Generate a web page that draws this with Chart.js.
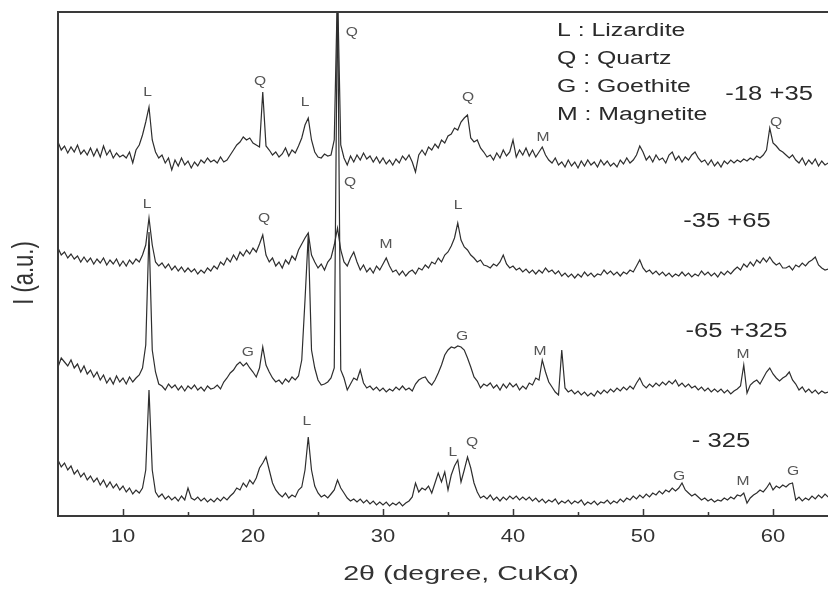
<!DOCTYPE html>
<html>
<head>
<meta charset="utf-8">
<script src="https://cdn.jsdelivr.net/npm/chart.js@4/dist/chart.umd.min.js"></script>
<style>
  html, body { margin: 0; padding: 0; background: #fff; }
  canvas { display: block; }
</style>
</head>
<body>
<canvas id="xrd-chart" width="828" height="590"></canvas>
<script>
'use strict';

// Scan settings (2-theta grid of the diffractometer)

const scanStart = 5;
const scanStep = 0.25;

// Intensities, one row per degree (x, x.25, x.5, x.75)

const sizeMinus18Plus35 = [
  374, 366, 370, 363,  369, 364, 371, 362,  366, 361, 368, 360,  367, 359, 370, 361,
  366, 358, 363, 359,  361, 358, 364, 353,  366, 371, 381, 394,  409, 376, 364, 358,
  361, 353, 358, 346,  356, 350, 358, 351,  355, 348, 354, 350,  356, 353, 358, 354,
  356, 353, 359, 354,  356, 361, 366, 371,  374, 379, 376, 378,  373, 371, 369, 424,
  370, 366, 361, 364,  359, 362, 368, 360,  366, 363, 370, 378,  391, 398, 376, 364,
  359, 358, 362, 360,  361, 376, 530, 371,  358, 351, 360, 354,  361, 356, 363, 357,
  360, 354, 359, 353,  358, 352, 356, 351,  357, 353, 360, 356,  361, 354, 344, 361,
  366, 361, 369, 366,  372, 368, 376, 373,  380, 382, 388, 386,  394, 398, 401, 378,
  374, 376, 368, 364,  359, 361, 356, 363,  358, 366, 360, 364,  376, 359, 366, 361,
  368, 360, 366, 359,  364, 369, 361, 356,  353, 358, 351, 354,  349, 356, 350, 354,
  348, 355, 350, 356,  351, 354, 349, 356,  351, 355, 350, 353,  349, 356, 352, 358,
  353, 356, 361, 370,  364, 356, 360, 354,  361, 356, 358, 353,  361, 364, 356, 360,
  354, 359, 356, 361,  364, 358, 354, 356,  351, 356, 350, 354,  349, 355, 352, 356,
  353, 356, 354, 357,  355, 358, 356, 360,  358, 361, 366, 388,  373, 370, 366, 364,
  361, 358, 361, 356,  353, 358, 351, 356,  352, 357, 350, 355,  351, 353
];

const sizeMinus35Plus65 = [
  268, 261, 264, 258,  262, 257, 260, 254,  259, 254, 258, 252,  257, 253, 258, 251,
  256, 252, 257, 250,  255, 250, 256, 252,  257, 254, 261, 271,  298, 271, 254, 250,
  253, 248, 252, 246,  250, 245, 249, 244,  248, 244, 247, 242,  246, 243, 248, 245,
  250, 247, 254, 251,  258, 254, 261, 256,  264, 260, 266, 262,  268, 264, 272, 281,
  261, 254, 258, 250,  254, 248, 256, 252,  260, 256, 266, 272,  278, 283, 261, 254,
  248, 252, 246, 254,  258, 271, 288, 266,  254, 250, 258, 264,  254, 246, 251, 244,
  248, 243, 250, 246,  252, 258, 250, 244,  246, 241, 245, 240,  244, 246, 242, 248,
  246, 251, 248, 254,  252, 258, 254, 261,  264, 270, 278, 293,  276, 269, 266, 261,
  258, 254, 256, 251,  250, 248, 252, 250,  254, 261, 252, 248,  250, 246, 248, 244,
  247, 243, 246, 242,  246, 243, 248, 244,  246, 242, 245, 240,  243, 239, 242, 238,
  242, 239, 244, 240,  243, 239, 242, 241,  246, 242, 245, 241,  244, 240, 244, 242,
  246, 244, 250, 256,  248, 244, 246, 242,  245, 241, 244, 240,  243, 239, 242, 240,
  244, 240, 243, 239,  242, 240, 245, 241,  244, 240, 243, 239,  244, 241, 245, 242,
  246, 249, 246, 252,  249, 254, 250, 256,  253, 258, 254, 259,  254, 251, 253, 248,
  248, 250, 246, 251,  249, 253, 250, 254,  256, 259, 251, 248,  246, 247
];

const sizeMinus65Plus325 = [
  149, 158, 154, 150,  156, 148, 152, 144,  150, 142, 146, 139,  144, 136, 141, 133,
  138, 132, 140, 134,  138, 132, 139, 134,  138, 141, 148, 171,  284, 166, 144, 132,
  130, 126, 132, 128,  131, 126, 130, 125,  130, 127, 131, 126,  129, 125, 130, 127,
  128, 131, 127, 134,  138, 143, 146, 151,  154, 150, 153, 148,  144, 139, 148, 169,
  151, 144, 138, 134,  136, 132, 137, 134,  139, 136, 140, 156,  216, 281, 166, 148,
  136, 131, 132, 134,  138, 148, 530, 146,  138, 126, 132, 138,  136, 146, 133, 128,
  130, 126, 129, 125,  128, 124, 127, 125,  129, 126, 130, 126,  128, 125, 132, 136,
  138, 139, 134, 131,  136, 143, 151, 161,  166, 169, 168, 170,  169, 166, 158, 149,
  139, 135, 128, 132,  130, 133, 128, 131,  126, 132, 128, 133,  129, 132, 126, 130,
  127, 133, 131, 138,  136, 156, 144, 134,  129, 124, 121, 166,  128, 124, 126, 122,
  125, 121, 124, 120,  123, 120, 125, 122,  126, 123, 127, 124,  128, 125, 129, 126,
  130, 127, 133, 138,  131, 128, 132, 129,  133, 130, 134, 131,  135, 132, 136, 130,
  133, 129, 132, 128,  130, 126, 129, 125,  128, 124, 127, 124,  127, 123, 126, 122,
  125, 127, 130, 151,  123, 131, 134, 136,  132, 138, 144, 148,  142, 138, 135, 138,
  140, 144, 136, 132,  126, 129, 124, 127,  123, 126, 122, 125,  123, 124
];

const sizeMinus325 = [
   56,  49,  53,  46,   50,  42,  46,  39,   43,  36,  40,  34,   38,  31,  36,  29,
   34,  28,  32,  26,   30,  24,  28,  22,   26,  23,  28,  46,  126,  46,  24,  19,
   22,  17,  20,  16,   19,  15,  20,  16,   28,  18,  16,  19,   15,  18,  14,  17,
   14,  18,  15,  19,   16,  20,  23,  28,   26,  33,  29,  36,   32,  38,  48,  53,
   59,  46,  33,  26,   22,  19,  23,  18,   21,  19,  26,  29,   46,  79,  46,  30,
   23,  19,  21,  18,   22,  26,  36,  28,   23,  18,  15,  17,   14,  17,  13,  16,
   12,  15,  11,  14,   11,  14,  10,  13,   11,  14,  10,  13,   15,  19,  33,  24,
   28,  26,  30,  23,   33,  43,  34,  44,   26,  41,  50,  56,   34,  46,  59,  48,
   33,  24,  18,  20,   17,  21,  16,  19,   15,  19,  16,  20,   17,  20,  16,  19,
   16,  19,  15,  18,   14,  17,  13,  16,   14,  17,  12,  15,   13,  16,  12,  15,
   13,  16,  11,  14,   12,  15,  11,  14,   13,  16,  12,  15,   13,  17,  14,  18,
   16,  20,  17,  21,   18,  22,  19,  23,   21,  25,  22,  26,   24,  28,  25,  28,
   33,  26,  23,  20,   22,  19,  16,  18,   15,  17,  14,  16,   15,  18,  16,  19,
   17,  21,  20,  23,   13,  18,  21,  23,   26,  24,  28,  33,   26,  30,  28,  31,
   29,  32,  33,  16,   19,  15,  18,  16,   20,  17,  21,  18,   22,  19
];

// Axis ticks

const majorTicks = [10, 20, 30, 40, 50, 60];
const minorTicks = [15, 25, 35, 45, 55];

// Peak letters: [2theta, intensity, letter]

const peakLetters = [
  [11.9, 424, 'L'], [20.54, 435, 'Q'], [24.0, 414, 'L'], [27.6, 484, 'Q'],
  [36.54, 419, 'Q'], [42.31, 379, 'M'], [60.23, 394, 'Q'],
  [11.85, 312, 'L'], [20.85, 298, 'Q'], [27.46, 334, 'Q'], [30.23, 272, 'M'], [35.77, 311, 'L'],
  [19.6, 164, 'G'], [36.08, 180, 'G'], [42.08, 165, 'M'], [57.69, 162, 'M'],
  [24.15, 95, 'L'], [35.38, 64, 'L'], [36.85, 74, 'Q'], [52.77, 40, 'G'], [57.69, 35, 'M'], [61.54, 45, 'G']
];

// Phase key and sample names: [2theta, intensity, text]

const phaseKey = [
  [43.38, 480, 'L : Lizardite'],
  [43.38, 452, 'Q : Quartz'],
  [43.38, 424, 'G : Goethite'],
  [43.38, 396, 'M : Magnetite']
];

const sampleNames = [
  [59.7, 416, '-18 +35'],
  [56.46, 289, '-35 +65'],
  [57.19, 179, '-65 +325'],
  [56.0, 69, '- 325']
];

const xTitle = '2\u03b8 (degree, CuK\u03b1)';
const yTitle = 'I (a.u.)';

// Build the points

function toPoints(values) {
  return values.map((v, i) => ({x: scanStart + i * scanStep, y: v}));
}

function makeSet(label, values) {
  return {
    label: label,
    data: toPoints(values),
    borderColor: '#2e2e2e',
    borderWidth: 1.2,
    pointRadius: 0,
    tension: 0,
    fill: false
  };
}

// Text that is a bit wider than normal, like the scanned figure

function wideText(ctx, text, x, y, font, align, sx, color) {
  ctx.save();
  ctx.font = font;
  ctx.fillStyle = color;
  ctx.textAlign = align;
  ctx.translate(x, y);
  ctx.scale(sx, 1);
  ctx.fillText(text, 0, 0);
  ctx.restore();
}

// Frame, inward ticks and all texts

const decorations = {
  id: 'decorations',
  afterDraw(chart) {
    const ctx = chart.ctx;
    const area = chart.chartArea;
    const xs = chart.scales.x;
    const ys = chart.scales.y;

    ctx.save();
    ctx.strokeStyle = '#3a3a3a';
    ctx.lineWidth = 2;
    ctx.beginPath();
    ctx.moveTo(chart.width, area.top);
    ctx.lineTo(area.left, area.top);
    ctx.lineTo(area.left, area.bottom);
    ctx.lineTo(chart.width, area.bottom);
    ctx.stroke();

    ctx.lineWidth = 1.5;
    ctx.beginPath();
    majorTicks.forEach(t => {
      const px = Math.round(xs.getPixelForValue(t)) + 0.5;
      ctx.moveTo(px, area.bottom);
      ctx.lineTo(px, area.bottom - 7);
    });
    minorTicks.forEach(t => {
      const px = Math.round(xs.getPixelForValue(t)) + 0.5;
      ctx.moveTo(px, area.bottom);
      ctx.lineTo(px, area.bottom - 4);
    });
    ctx.stroke();
    ctx.restore();

    ctx.textBaseline = 'alphabetic';
    majorTicks.forEach(t => {
      wideText(ctx, String(t), xs.getPixelForValue(t), area.bottom + 26,
        '18px "Liberation Sans", Arial, sans-serif', 'center', 1.22, '#333');
    });

    wideText(ctx, xTitle, (area.left + area.right) / 2 + 18, area.bottom + 64,
      '21px "Liberation Sans", Arial, sans-serif', 'center', 1.36, '#333');

    ctx.save();
    ctx.translate(25, (area.top + area.bottom) / 2 + 9);
    ctx.rotate(-Math.PI / 2);
    ctx.scale(1, 1.3);
    ctx.font = '22px "Liberation Sans", Arial, sans-serif';
    ctx.fillStyle = '#333';
    ctx.textAlign = 'center';
    ctx.textBaseline = 'middle';
    ctx.fillText(yTitle, 0, 0);
    ctx.restore();

    ctx.save();
    ctx.textBaseline = 'middle';
    peakLetters.forEach(p => {
      wideText(ctx, p[2], xs.getPixelForValue(p[0]), ys.getPixelForValue(p[1]),
        '13px "Liberation Sans", Arial, sans-serif', 'center', 1.2, '#555');
    });
    ctx.restore();

    ctx.textBaseline = 'alphabetic';
    phaseKey.forEach(k => {
      wideText(ctx, k[2], xs.getPixelForValue(k[0]), ys.getPixelForValue(k[1]),
        '18px "Liberation Sans", Arial, sans-serif', 'left', 1.38, '#2a2a2a');
    });
    sampleNames.forEach(s => {
      wideText(ctx, s[2], xs.getPixelForValue(s[0]), ys.getPixelForValue(s[1]),
        '20px "Liberation Sans", Arial, sans-serif', 'center', 1.28, '#2a2a2a');
    });
  }
};

let xrdChart = new Chart(document.getElementById('xrd-chart').getContext('2d'), {
  type: 'line',
  data: {
    datasets: [
      makeSet('-18 +35', sizeMinus18Plus35),
      makeSet('-35 +65', sizeMinus35Plus65),
      makeSet('-65 +325', sizeMinus65Plus325),
      makeSet('- 325', sizeMinus325)
    ]
  },
  options: {
    responsive: false,
    animation: false,
    devicePixelRatio: 1,
    layout: {padding: {top: 12, right: 0, left: 0, bottom: 0}},
    plugins: {
      legend: {display: false},
      tooltip: {enabled: false}
    },
    scales: {
      x: {
        type: 'linear',
        min: 5,
        max: 64.23,
        grid: {display: false},
        border: {display: false},
        ticks: {display: false},
        afterFit: scale => { scale.height = 74; }
      },
      y: {
        min: 0,
        max: 504,
        grid: {display: false},
        border: {display: false},
        ticks: {display: false},
        afterFit: scale => { scale.width = 58; }
      }
    }
  },
  plugins: [decorations]
});
</script>
</body>
</html>
